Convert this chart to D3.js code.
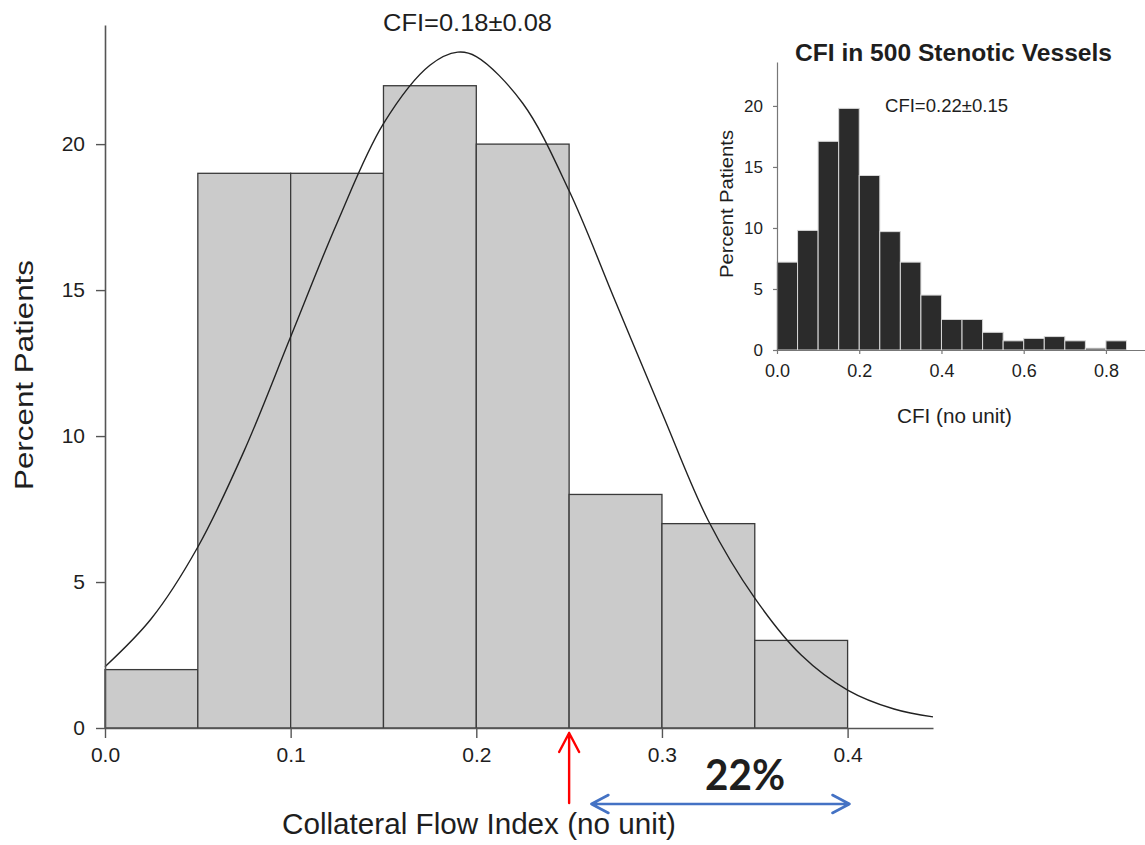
<!DOCTYPE html>
<html>
<head>
<meta charset="utf-8">
<script src="https://cdn.jsdelivr.net/npm/d3@7/dist/d3.min.js"></script>
<style>
  html, body { margin: 0; padding: 0; background: #fff; }
  svg { display: block; }
  text { font-family: "Liberation Sans", Arial, sans-serif; fill: #1e1e1e; }
</style>
</head>
<body>
<svg id="chart" width="1145" height="845"></svg>
<script>
// ---------- Data ----------
// Main histogram (bin start, percent of patients); bin width 0.05
const mainBinStarts = [0.00, 0.05, 0.10, 0.15, 0.20, 0.25, 0.30, 0.35];
const mainPercent   = [2, 19, 19, 22, 20, 8, 7, 3];
const mainBinWidth  = 0.05;

// Fitted normal curve
const curveX = [0, 0.025, 0.05, 0.075, 0.10, 0.125, 0.15, 0.175, 0.19, 0.20, 0.225, 0.25, 0.275, 0.30, 0.325, 0.35, 0.375, 0.40, 0.425, 0.446];
const curveY = [2.1, 3.75, 6.2, 9.5, 13.4, 17.3, 20.7, 22.7, 23.15, 23.0, 21.4, 18.4, 14.6, 10.8, 7.1, 4.45, 2.5, 1.3, 0.65, 0.38];

const mainXTicks = [0.0, 0.1, 0.2, 0.3, 0.4];
const mainYTicks = [0, 5, 10, 15, 20];

// Inset histogram: CFI in 500 stenotic vessels
const insetBinStarts = [0.00, 0.05, 0.10, 0.15, 0.20, 0.25, 0.30, 0.35, 0.40, 0.45, 0.50, 0.55, 0.60, 0.65, 0.70, 0.75, 0.80];
const insetPercent   = [7.2, 9.8, 17.1, 19.8, 14.3, 9.7, 7.2, 4.5, 2.5, 2.5, 1.45, 0.75, 0.95, 1.1, 0.75, 0.15, 0.75];
const insetBinWidth  = 0.05;
const insetXTicks = [0.0, 0.2, 0.4, 0.6, 0.8];
const insetYTicks = [0, 5, 10, 15, 20];

// Annotations
const cutoffCFI = 0.25;             // red arrow
const rangeCFI  = [0.262, 0.401];   // blue double arrow
const rangeLabel = "22%";

// ---------- Drawing ----------
const svg = d3.select("#chart");
svg.append("rect").attr("width", 1145).attr("height", 845).attr("fill", "#fff");

// Main scales
const x = d3.scaleLinear().domain([0, 0.446]).range([105, 933]);
const y = d3.scaleLinear().domain([0, 24.08]).range([728, 25]);

const main = svg.append("g");

// bars
main.selectAll("rect.bar")
  .data(mainBinStarts.map((s, i) => ({ s, v: mainPercent[i] })))
  .join("rect")
  .attr("class", "bar")
  .attr("x", d => x(d.s))
  .attr("y", d => y(d.v))
  .attr("width", d => x(d.s + mainBinWidth) - x(d.s))
  .attr("height", d => y(0) - y(d.v))
  .attr("fill", "#cbcbcb")
  .attr("stroke", "#3a3a3a")
  .attr("stroke-width", 1.3);

// curve
const line = d3.line()
  .x(d => x(d[0]))
  .y(d => y(d[1]))
  .curve(d3.curveCatmullRom.alpha(0.5));
main.append("path")
  .datum(curveX.map((cx, i) => [cx, curveY[i]]))
  .attr("d", line)
  .attr("fill", "none")
  .attr("stroke", "#222")
  .attr("stroke-width", 1.4);

// axes
const xAxis = main.append("g")
  .attr("transform", `translate(0,${y(0)})`)
  .call(d3.axisBottom(x).tickValues(mainXTicks).tickFormat(d3.format(".1f"))
    .tickSizeInner(10).tickSizeOuter(0).tickPadding(9));
xAxis.selectAll("text").style("font-size", "21px").attr("fill", "#222");

const yAxis = main.append("g")
  .attr("transform", `translate(${x(0)},0)`)
  .call(d3.axisLeft(y).tickValues(mainYTicks).tickSizeInner(9).tickSizeOuter(0).tickPadding(11));
yAxis.selectAll("text").style("font-size", "21px").attr("fill", "#222");

[xAxis, yAxis].forEach(a => {
  a.select(".domain").attr("stroke", "#555").attr("stroke-width", 1.6);
  a.selectAll(".tick line").attr("stroke", "#555").attr("stroke-width", 1.4);
});

// main texts
main.append("text")
  .attr("x", 383).attr("y", 31)
  .attr("textLength", 169).attr("lengthAdjust", "spacingAndGlyphs")
  .style("font-size", "24px")
  .text("CFI=0.18±0.08");

main.append("text")
  .attr("x", 282).attr("y", 834)
  .attr("textLength", 394).attr("lengthAdjust", "spacingAndGlyphs")
  .style("font-size", "30px")
  .text("Collateral Flow Index (no unit)");

main.append("text")
  .attr("transform", "translate(33,490) rotate(-90)")
  .attr("textLength", 230).attr("lengthAdjust", "spacingAndGlyphs")
  .style("font-size", "25px")
  .text("Percent Patients");

// ---------- Inset ----------
const xi = d3.scaleLinear().domain([0, 0.895]).range([777, 1145]);
const yi = d3.scaleLinear().domain([0, 23.6]).range([350, 62]);
const inset = svg.append("g");

inset.selectAll("rect.ibar")
  .data(insetBinStarts.map((s, i) => ({ s, v: insetPercent[i] })))
  .join("rect")
  .attr("class", "ibar")
  .attr("x", d => xi(d.s))
  .attr("y", d => yi(d.v))
  .attr("width", d => xi(d.s + insetBinWidth) - xi(d.s))
  .attr("height", d => yi(0) - yi(d.v))
  .attr("fill", "#2b2b2b")
  .attr("stroke", "#d8d8d8")
  .attr("stroke-width", 1);

const xiAxis = inset.append("g")
  .attr("transform", `translate(0,${yi(0)})`)
  .call(d3.axisBottom(xi).tickValues(insetXTicks).tickFormat(d3.format(".1f"))
    .tickSizeInner(4).tickSizeOuter(0).tickPadding(10));
xiAxis.selectAll("text").style("font-size", "18px").attr("fill", "#333");

const yiAxis = inset.append("g")
  .attr("transform", `translate(${xi(0)},0)`)
  .call(d3.axisLeft(yi).tickValues(insetYTicks).tickSizeInner(4).tickSizeOuter(0).tickPadding(10));
yiAxis.selectAll("text").style("font-size", "17px").attr("fill", "#333");

[xiAxis, yiAxis].forEach(a => {
  a.select(".domain").attr("stroke", "#777").attr("stroke-width", 1.2);
  a.selectAll(".tick line").attr("stroke", "#777").attr("stroke-width", 1.2);
});

inset.append("text")
  .attr("x", 795).attr("y", 61)
  .attr("textLength", 317).attr("lengthAdjust", "spacingAndGlyphs")
  .style("font-size", "24px").style("font-weight", "bold")
  .attr("fill", "#111")
  .text("CFI in 500 Stenotic Vessels");

inset.append("text")
  .attr("x", 885).attr("y", 112)
  .attr("textLength", 123).attr("lengthAdjust", "spacingAndGlyphs")
  .style("font-size", "19px").attr("fill", "#333")
  .text("CFI=0.22±0.15");

inset.append("text")
  .attr("x", 897).attr("y", 423)
  .attr("textLength", 115).attr("lengthAdjust", "spacingAndGlyphs")
  .style("font-size", "20px").attr("fill", "#333")
  .text("CFI (no unit)");

inset.append("text")
  .attr("transform", "translate(733,278) rotate(-90)")
  .attr("textLength", 148).attr("lengthAdjust", "spacingAndGlyphs")
  .style("font-size", "19px").attr("fill", "#333")
  .text("Percent Patients");

// ---------- Annotations ----------
const ann = svg.append("g").attr("fill", "none").attr("stroke-linecap", "round").attr("stroke-linejoin", "round");
const rx = x(cutoffCFI);
const tipY = 733;
ann.append("path")
  .attr("d", `M${rx},803 L${rx},${tipY} M${rx - 10},${tipY + 19} L${rx},${tipY} L${rx + 10},${tipY + 19}`)
  .attr("stroke", "#ff0000").attr("stroke-width", 2.4);

const bx0 = x(rangeCFI[0]), bx1 = x(rangeCFI[1]), by = 804;
ann.append("path")
  .attr("d", `M${bx0},${by} L${bx1},${by}` +
             ` M${bx0 + 17},${by - 9} L${bx0},${by} L${bx0 + 17},${by + 9}` +
             ` M${bx1 - 17},${by - 9} L${bx1},${by} L${bx1 - 17},${by + 9}`)
  .attr("stroke", "#4472c4").attr("stroke-width", 2.6);

svg.append("text")
  .attr("x", 705).attr("y", 790)
  .attr("textLength", 80).attr("lengthAdjust", "spacingAndGlyphs")
  .style("font-family", "Lato, 'Open Sans', sans-serif")
  .style("font-size", "42px").style("font-weight", "bold")
  .attr("fill", "#000")
  .text(rangeLabel);
</script>
</body>
</html>
